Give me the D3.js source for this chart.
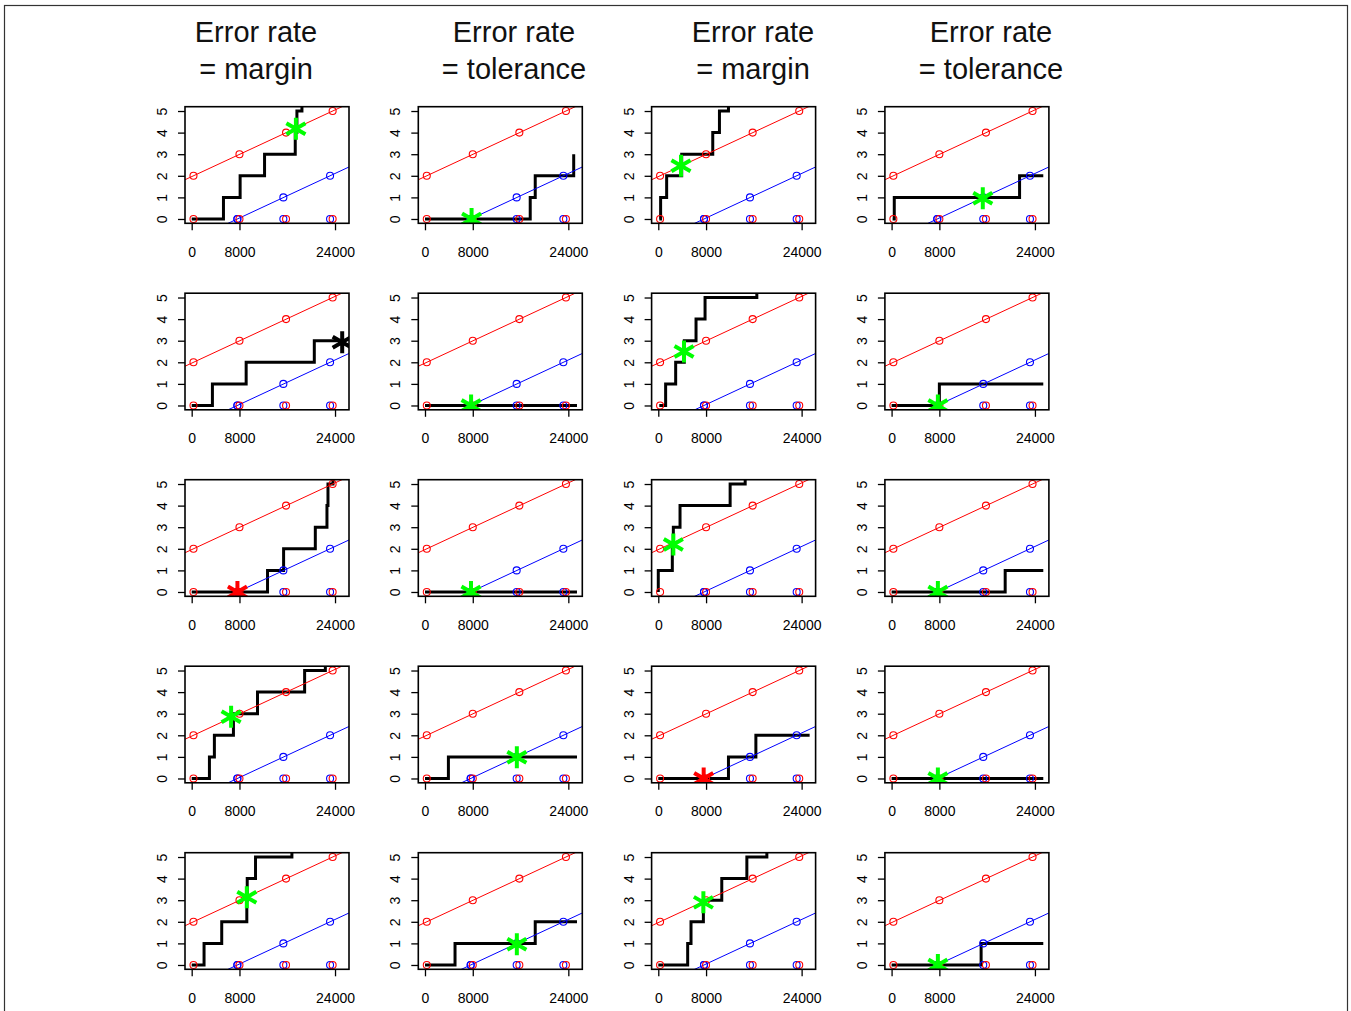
<!DOCTYPE html>
<html>
<head>
<meta charset="utf-8">
<script src="https://cdn.jsdelivr.net/npm/d3@7"></script>
<style>
  body { margin: 0; background: #fff; }
  text { font-family: Helvetica, "Liberation Sans", Arial, sans-serif; }
</style>
</head>
<body>
<div id="chart"></div>
<script>
// Column titles
const titleLine1 = ["Error rate", "Error rate", "Error rate", "Error rate"];
const titleLine2 = ["= margin", "= tolerance", "= margin", "= tolerance"];

// Axis ticks
const xTicks = [0, 8000, 24000];
const yTicks = [0, 1, 2, 3, 4, 5];

// Reference points (same in every panel)
const redX = [300, 8000, 15800, 23600];
const redY = [2, 3, 4, 5];
const blueX = [7650, 15350, 23170];
const blueY = [0, 1, 2];

// Step curves, one per panel, row by row ([x, count])
const steps = [
  [[0,0],[5320,1],[8110,2],[12200,3],[17340,4],[17620,5],[18460,6]],
  [[0,0],[17620,1],[18460,2],[24900,3]],
  [[170,0],[390,1],[1400,2],[3920,3],[9120,4],[10240,5],[11750,6]],
  [[170,0],[450,1],[21430,2],[25400,2]],

  [[0,0],[3470,1],[9120,2],[20530,3],[25200,3]],
  [[0,0],[25450,0]],
  [[170,0],[1230,1],[2910,2],[4360,3],[6320,4],[7830,5],[16500,6]],
  [[0,0],[8000,1],[25400,1]],

  [[0,0],[12700,1],[15390,2],[20700,3],[22650,4],[22820,5],[23660,6]],
  [[0,0],[25450,0]],
  [[0,0],[0,1],[2350,2],[2520,3],[3640,4],[12030,5],[14550,6]],
  [[0,0],[19020,1],[25400,1]],

  [[0,0],[2970,1],[3800,2],[6990,3],[11020,4],[18910,5],[22380,6]],
  [[0,0],[3920,1],[25450,1]],
  [[0,0],[11750,1],[16340,2],[25340,2]],
  [[0,0],[25400,0]],

  [[0,0],[2070,1],[5030,2],[9230,3],[9300,4],[10690,5],[16780,6]],
  [[0,0],[5030,1],[18460,2],[25450,2]],
  [[0,0],[4920,1],[5480,2],[7550,3],[10630,4],[14830,5],[18180,6]],
  [[0,0],[14990,1],[25400,1]]
];

// Asterisk marker per panel
const starX = [17450, 7800, 3800, 15270,  25200, 7720, 4310, 7750,  7660, 7700, 2520, 7750,  6600, 15380, 7600, 7750,  9230, 15380, 7550, 7750];
const starY = [4.18, 0, 2.47, 0.96,  2.93, 0, 2.5, 0,  0, 0, 2.2, 0,  2.86, 0.98, 0, 0,  3.14, 0.96, 2.9, 0];
const starColor = ["green","green","green","green", "black","green","green","green",
                   "red","green","green","green", "green","green","red","green",
                   "green","green","green","green"];

// Layout
const W = 1351, H = 1011;
const boxLeft0 = 185, colPitch = 233.3, boxW = 164;
const boxTop0 = 106.7, rowPitch = 186.5, boxH = 116.6;
const titleX = [256, 514, 753, 991];
const colors = { green: "#00ff00", red: "#ff0000", black: "#000000", blue: "#0000ff" };

const svg = d3.select("#chart").append("svg")
  .attr("width", W)
  .attr("height", H);

// outer frame
svg.append("rect")
  .attr("x", 4.5).attr("y", 5.5)
  .attr("width", 1343).attr("height", 1030)
  .attr("fill", "none")
  .attr("stroke", "#333")
  .attr("stroke-width", 1.2);

// titles
titleLine1.forEach((t, i) => {
  const g = svg.append("text")
    .attr("text-anchor", "middle")
    .attr("font-size", "29px")
    .attr("fill", "#111");
  g.append("tspan").attr("x", titleX[i]).attr("y", 42).text(t);
  g.append("tspan").attr("x", titleX[i]).attr("y", 78.5).text(titleLine2[i]);
});

const x = d3.scaleLinear().domain([-1120, 26340]).range([0, boxW]);
const y = d3.scaleLinear().domain([-0.2, 5.2]).range([boxH, 0]);

const stepLine = d3.line()
  .x(d => x(d[0]))
  .y(d => y(d[1]))
  .curve(d3.curveStepAfter);

// reference lines through the point sets
const redSlope = (redY[3] - redY[0]) / (redX[3] - redX[0]);
const blueSlope = (blueY[2] - blueY[0]) / (blueX[2] - blueX[0]);
const [xd0, xd1] = x.domain();
const redLine = [[xd0, redY[0] + (xd0 - redX[0]) * redSlope], [xd1, redY[0] + (xd1 - redX[0]) * redSlope]];
const blueLine = [[xd0, blueY[0] + (xd0 - blueX[0]) * blueSlope], [xd1, blueY[0] + (xd1 - blueX[0]) * blueSlope]];
const straight = d3.line().x(d => x(d[0])).y(d => y(d[1]));

// six-armed asterisk
function starPath(cx, cy, r) {
  let p = "";
  [90, 30, 150].forEach(a => {
    const dx = r * Math.cos(a * Math.PI / 180), dy = r * Math.sin(a * Math.PI / 180);
    p += `M${cx - dx},${cy + dy}L${cx + dx},${cy - dy}`;
  });
  return p;
}

steps.forEach((stepData, k) => {
  const row = Math.floor(k / 4), col = k % 4;
  const left = boxLeft0 + col * colPitch;
  const top = boxTop0 + row * rowPitch;

  const panel = svg.append("g").attr("transform", `translate(${left},${top})`);

  const clipId = "clip" + k;
  panel.append("clipPath").attr("id", clipId)
    .append("rect").attr("width", boxW).attr("height", boxH);

  const plot = panel.append("g").attr("clip-path", `url(#${clipId})`);

  // step curve
  plot.append("path")
    .attr("d", stepLine(stepData))
    .attr("fill", "none")
    .attr("stroke", "#000")
    .attr("stroke-width", 3);

  // reference lines
  plot.append("path").attr("d", straight(redLine))
    .attr("stroke", colors.red).attr("stroke-width", 1).attr("fill", "none");
  plot.append("path").attr("d", straight(blueLine))
    .attr("stroke", colors.blue).attr("stroke-width", 1).attr("fill", "none");

  // circles on the zero line and on the lines
  plot.selectAll(".b0").data(blueX).enter().append("circle")
    .attr("cx", d => x(d)).attr("cy", y(0)).attr("r", 3.5)
    .attr("fill", "none").attr("stroke", colors.blue).attr("stroke-width", 1.1);
  plot.selectAll(".b1").data(blueX).enter().append("circle")
    .attr("cx", d => x(d)).attr("cy", (d, i) => y(blueY[i])).attr("r", 3.5)
    .attr("fill", "none").attr("stroke", colors.blue).attr("stroke-width", 1.1);
  plot.selectAll(".r0").data(redX).enter().append("circle")
    .attr("cx", d => x(d)).attr("cy", y(0)).attr("r", 3.5)
    .attr("fill", "none").attr("stroke", colors.red).attr("stroke-width", 1.1);
  plot.selectAll(".r1").data(redX).enter().append("circle")
    .attr("cx", d => x(d)).attr("cy", (d, i) => y(redY[i])).attr("r", 3.5)
    .attr("fill", "none").attr("stroke", colors.red).attr("stroke-width", 1.1);

  // asterisk
  plot.append("path")
    .attr("d", starPath(x(starX[k]), y(starY[k]), 11))
    .attr("stroke", colors[starColor[k]])
    .attr("stroke-width", 4)
    .attr("fill", "none");

  // x axis
  const xa = panel.append("g")
    .attr("transform", `translate(0,${boxH})`)
    .call(d3.axisBottom(x).tickValues(xTicks).tickFormat(d3.format("d"))
      .tickSize(7).tickSizeOuter(0).tickPadding(16.5));
  xa.select(".domain").remove();
  xa.selectAll("line").attr("stroke-width", 1.3);
  xa.selectAll("text").attr("font-size", "14px").attr("fill", "#000")
    .style("font-family", "Helvetica, 'Liberation Sans', Arial, sans-serif");

  // y axis, labels rotated like R's default
  const ya = panel.append("g")
    .call(d3.axisLeft(y).tickValues(yTicks).tickFormat(d3.format("d"))
      .tickSize(7).tickSizeOuter(0));
  ya.select(".domain").remove();
  ya.selectAll("line").attr("stroke-width", 1.3);
  ya.selectAll("text")
    .attr("x", null).attr("dy", null)
    .attr("transform", "translate(-18,0) rotate(-90)")
    .attr("text-anchor", "middle")
    .attr("font-size", "14px").attr("fill", "#000")
    .style("font-family", "Helvetica, 'Liberation Sans', Arial, sans-serif");

  // box
  panel.append("rect")
    .attr("width", boxW).attr("height", boxH)
    .attr("fill", "none")
    .attr("stroke", "#000")
    .attr("stroke-width", 1.6);
});
</script>
</body>
</html>
